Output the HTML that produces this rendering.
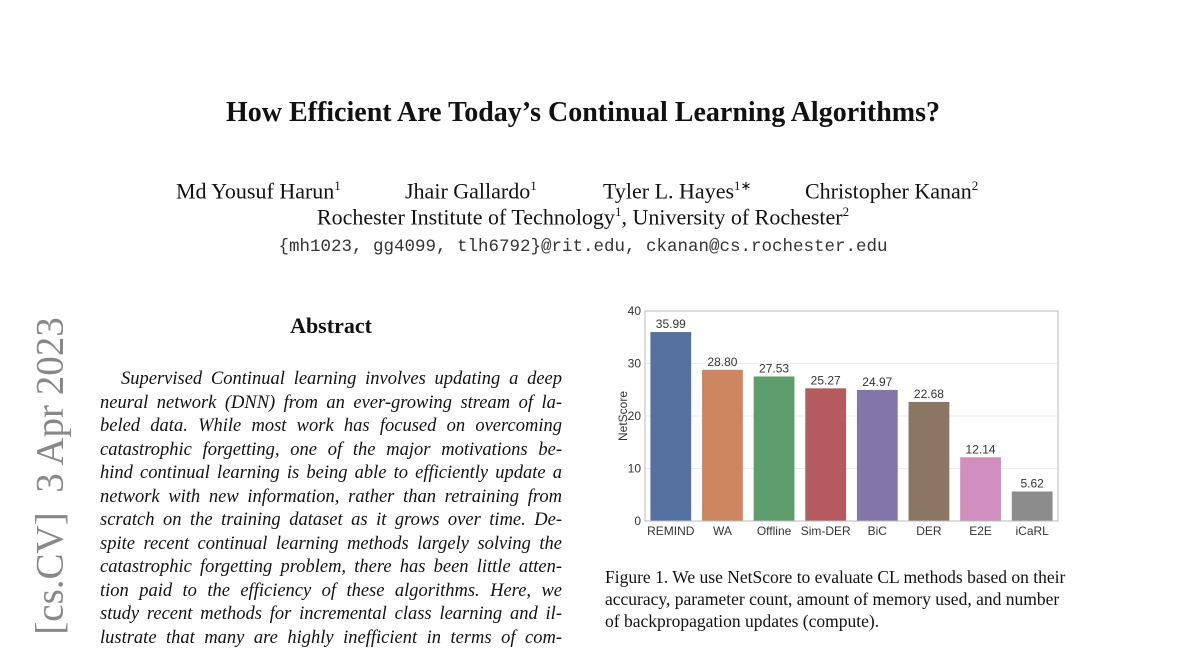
<!DOCTYPE html>
<html><head><meta charset="utf-8"><style>
body{margin:0;background:#fff;width:1200px;height:648px;overflow:hidden;position:relative;font-family:"Liberation Serif",serif;color:#111}
.a{position:absolute;white-space:nowrap}
.c{text-align:center}
.ln{position:absolute;left:100px;width:462px;font-style:italic;font-size:18.5px;text-align:justify;text-align-last:justify;white-space:nowrap;line-height:22px}
.cap{position:absolute;left:605px;font-size:17.5px;line-height:20px}
sup{font-size:13px}
.au{position:absolute;top:178px;font-size:22px;white-space:nowrap}
</style></head><body>
<div class="a c" style="left:0;width:1166px;top:97px;font-size:28px;font-weight:bold">How Efficient Are Today’s Continual Learning Algorithms?</div>
<div>
<div class="au" style="left:176px">Md Yousuf Harun<sup>1</sup></div>
<div class="au" style="left:405px">Jhair Gallardo<sup>1</sup></div>
<div class="au" style="left:603px">Tyler L. Hayes<sup>1∗</sup></div>
<div class="au" style="left:805px">Christopher Kanan<sup>2</sup></div>
</div>
<div class="a c" style="left:0;width:1166px;top:204px;font-size:22px">Rochester Institute of Technology<sup>1</sup>, University of Rochester<sup>2</sup></div>
<div class="a c" style="left:0;width:1166px;top:237px;font-size:17.5px;font-family:'Liberation Mono',monospace;color:#333">{mh1023, gg4099, tlh6792}@rit.edu, ckanan@cs.rochester.edu</div>
<div class="a" style="left:50px;top:476px;transform:translate(-50%,-50%) rotate(-90deg);font-size:39px;color:#888">[cs.CV]&nbsp;&nbsp;3 Apr 2023</div>
<div class="a c" style="left:100px;width:462px;top:313px;font-size:22px;font-weight:bold">Abstract</div>
<div>
<div class="ln" style="top:368px;padding-left:21px;width:441px">Supervised Continual learning involves updating a deep</div>
<div class="ln" style="top:392px">neural network (DNN) from an ever-growing stream of la-</div>
<div class="ln" style="top:415px">beled data. While most work has focused on overcoming</div>
<div class="ln" style="top:439px">catastrophic forgetting, one of the major motivations be-</div>
<div class="ln" style="top:462px">hind continual learning is being able to efficiently update a</div>
<div class="ln" style="top:486px">network with new information, rather than retraining from</div>
<div class="ln" style="top:509px">scratch on the training dataset as it grows over time. De-</div>
<div class="ln" style="top:533px">spite recent continual learning methods largely solving the</div>
<div class="ln" style="top:556px">catastrophic forgetting problem, there has been little atten-</div>
<div class="ln" style="top:580px">tion paid to the efficiency of these algorithms. Here, we</div>
<div class="ln" style="top:603px">study recent methods for incremental class learning and il-</div>
<div class="ln" style="top:627px">lustrate that many are highly inefficient in terms of com-</div>
</div>
<svg id="chart" style="position:absolute;left:0;top:0" width="1200" height="648"></svg>
<div>
<div class="cap" style="top:567px">Figure 1. We use NetScore to evaluate CL methods based on their</div>
<div class="cap" style="top:589px">accuracy, parameter count, amount of memory used, and number</div>
<div class="cap" style="top:611px">of backpropagation updates (compute).</div>
</div>
<script>
const categories=["REMIND","WA","Offline","Sim-DER","BiC","DER","E2E","iCaRL"];
const values=[35.99,28.80,27.53,25.27,24.97,22.68,12.14,5.62];
const labels=["35.99","28.80","27.53","25.27","24.97","22.68","12.14","5.62"];
const colors=["#5471a0","#cd865f","#5e9d6c","#b55b5f","#8374a9","#8b7563","#d08fbe","#8c8c8c"];
const yTicks=[0,10,20,30,40];
const NS="http://www.w3.org/2000/svg";
const svg=document.getElementById('chart');
const L=645,R=1058,T=311,B=521,yMax=40;
const band=(R-L)/categories.length;
const y=v=>B-(v/yMax)*(B-T);
const x=i=>L+band*i+band/2;
function mk(t,a){const e=document.createElementNS(NS,t);for(const k in a)e.setAttribute(k,a[k]);svg.appendChild(e);return e;}
yTicks.forEach(t=>{
  if(t>0&&t<yMax){const g=mk('line',{x1:L,x2:R,y1:y(t),y2:y(t),stroke:'#ececec','stroke-width':1});
  
  }
  const tx=mk('text',{x:L-4,y:y(t)+4,'text-anchor':'end','font-size':12,fill:'#333','font-family':'Liberation Sans, sans-serif'});
  tx.textContent=t;
  
  
});
const yt=mk('text',{x:0,y:0,transform:`translate(627,${(T+B)/2}) rotate(-90)`,'text-anchor':'middle','font-size':12,fill:'#333','font-family':'Liberation Sans, sans-serif'});
yt.textContent='NetScore';


const bw=band*0.79;
categories.forEach((c,i)=>{
  const r=mk('rect',{x:x(i)-bw/2,y:y(values[i]),width:bw,height:B-y(values[i]),fill:colors[i]});
  
  
  const v=mk('text',{x:x(i),y:y(values[i])-4,'text-anchor':'middle','font-size':12,fill:'#333','font-family':'Liberation Sans, sans-serif'});
  v.textContent=labels[i];
  
  
  const xl=mk('text',{x:x(i),y:B+14,'text-anchor':'middle','font-size':12,fill:'#333','font-family':'Liberation Sans, sans-serif'});
  xl.textContent=c;
  
  
});
const fr=mk('rect',{x:L,y:T,width:R-L,height:B-T,fill:'none',stroke:'#bbb','stroke-width':1});


</script>
</body></html>
